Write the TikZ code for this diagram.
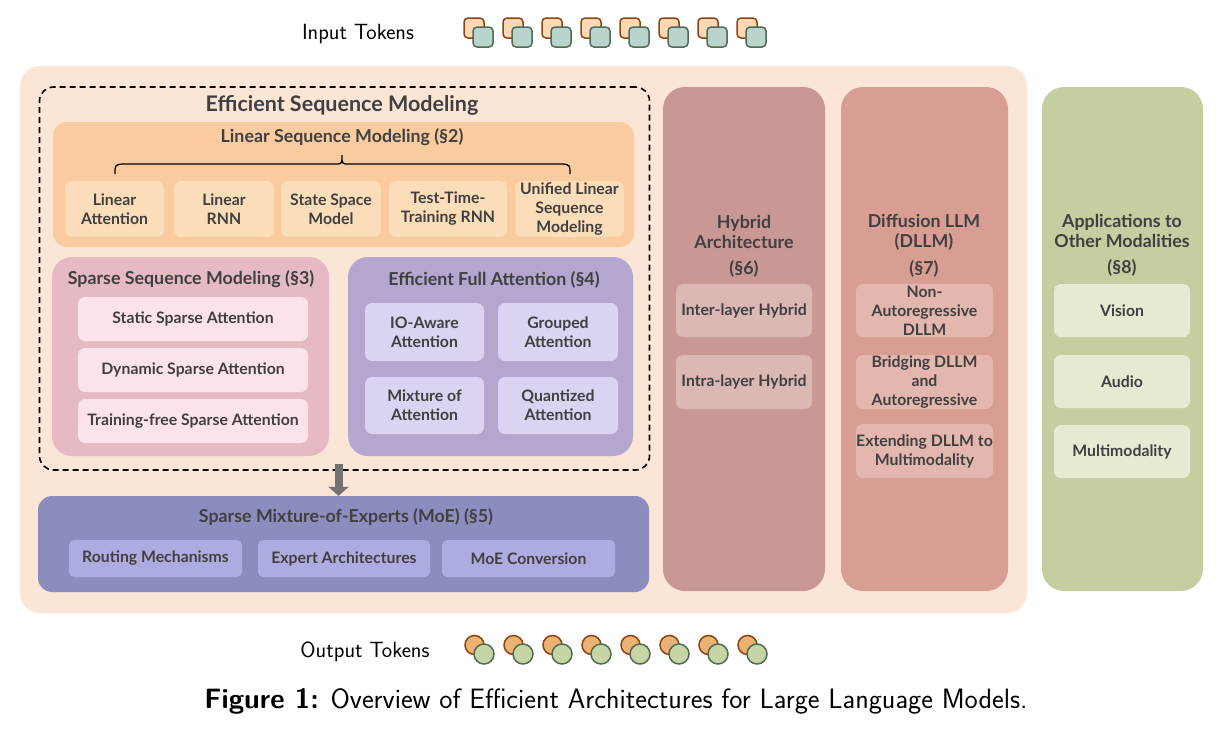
\documentclass[tikz,border=0pt]{standalone}
\usepackage{fontspec}
\newfontfamily\dfont{Lato}
\usetikzlibrary{arrows.meta}
\definecolor{txt}{HTML}{404040}
\definecolor{peach}{HTML}{FBE5D6}
\definecolor{linbox}{HTML}{F9CB9E}
\definecolor{linitem}{HTML}{FCDDBA}
\definecolor{spbox}{HTML}{E5BAC3}
\definecolor{spitem}{HTML}{FCE3EA}
\definecolor{efbox}{HTML}{B5A6CF}
\definecolor{efitem}{HTML}{DCD2F2}
\definecolor{moebox}{HTML}{8B8DBF}
\definecolor{moeitem}{HTML}{ADACE0}
\definecolor{hybox}{HTML}{C99894}
\definecolor{hyitem}{HTML}{DBB8B3}
\definecolor{dfbox}{HTML}{D99E93}
\definecolor{dfitem}{HTML}{E3B7AD}
\definecolor{grbox}{HTML}{C3CFA0}
\definecolor{gritem}{HTML}{E5EAD3}
\definecolor{tokor}{HTML}{FDD8B4}
\definecolor{tokorline}{HTML}{8B4513}
\definecolor{tokgr}{HTML}{B9D3CD}
\definecolor{tokgrline}{HTML}{506A55}
\definecolor{ocirc}{HTML}{EBB274}
\definecolor{gcirc}{HTML}{C5D6A4}
\definecolor{arrgray}{HTML}{767171}
\begin{document}
\begin{tikzpicture}[x=1pt,y=-1pt,
  every node/.style={inner sep=1pt, align=center, text=txt},
  panel/.style={draw=none, rounded corners=#1, minimum width=0pt},
  item/.style={draw=none, rounded corners=7pt, font=\dfont\bfseries\fontsize{15.8}{19}\selectfont},
  ttl/.style={font=\dfont\bfseries\fontsize{17.8}{20}\selectfont},
  sq/.style={minimum size=20pt, rounded corners=4pt, line width=1.5pt, inner sep=0pt},
  circ/.style={circle, line width=1.5pt, inner sep=0pt},
  bigarrow/.style={draw=arrgray, line width=8pt, -{Triangle[width=20pt,length=9pt]}}
]
\useasboundingbox (0,0) rectangle (1219,732);
% outer
\node[panel=20pt, fill=peach, minimum width=1007pt, minimum height=547pt] (outer) at (523.5,339.5) {};
% dashed
\node[draw=black, dashed, dash pattern=on 6pt off 4pt, line width=1.6pt, rounded corners=14pt, minimum width=610pt, minimum height=383pt] (esm) at (344.5,278.5) {};
\node[font=\dfont\bfseries\fontsize{21.5}{24}\selectfont] (esmt) at (342,105) {Efficient Sequence Modeling};
% linear
\node[panel=14pt, fill=linbox, minimum width=581pt, minimum height=125pt] (lin) at (343.5,184.5) {};
\node[ttl] (lint) at (342,137) {Linear Sequence Modeling (§2)};
\draw[line width=1.3pt, black] (115,174) .. controls (115,165) .. (122,164) -- (335,164) .. controls (342,164) .. (342,155)
  (342,155) .. controls (342,164) .. (349,164) -- (563,164) .. controls (570,165) .. (570,174);
\node[item, fill=linitem, minimum width=99pt, minimum height=56pt] (la) at (114.5,209) {Linear\\Attention};
\node[item, fill=linitem, minimum width=100pt, minimum height=56pt] (lr) at (224,209) {Linear\\RNN};
\node[item, fill=linitem, minimum width=100pt, minimum height=56pt] (ssm) at (331,209) {State Space\\Model};
\node[item, fill=linitem, minimum width=118pt, minimum height=56pt] (ttt) at (448,209) {Test-Time-\\Training RNN};
\node[item, fill=linitem, minimum width=109pt, minimum height=56pt, inner sep=0pt] (ul) at (569.5,209) {Unified Linear\\Sequence\\Modeling};
% sparse
\node[panel=20pt, fill=spbox, minimum width=277pt, minimum height=199pt] (sp) at (190.5,356.5) {};
\node[ttl] (spt) at (191,279) {Sparse Sequence Modeling (§3)};
\node[item, fill=spitem, minimum width=230pt, minimum height=44pt] (ssa) at (193,319) {Static Sparse Attention};
\node[item, fill=spitem, minimum width=230pt, minimum height=44pt] (dsa) at (193,370) {Dynamic Sparse Attention};
\node[item, fill=spitem, minimum width=230pt, minimum height=44pt] (tfs) at (193,421) {Training-free Sparse Attention};
% efficient full attention
\node[panel=20pt, fill=efbox, minimum width=285pt, minimum height=199pt] (ef) at (490.5,356.5) {};
\node[ttl] (eft) at (494,280) {Efficient Full Attention (§4)};
\node[item, fill=efitem, minimum width=119pt, minimum height=58pt] (io) at (424.5,332) {IO-Aware\\Attention};
\node[item, fill=efitem, minimum width=120pt, minimum height=58pt] (ga) at (558,332) {Grouped\\Attention};
\node[item, fill=efitem, minimum width=119pt, minimum height=57pt] (ma) at (424.5,405.5) {Mixture of\\Attention};
\node[item, fill=efitem, minimum width=120pt, minimum height=57pt] (qa) at (558,405.5) {Quantized\\Attention};
% MoE
\node[panel=14pt, fill=moebox, minimum width=611pt, minimum height=96pt] (moe) at (343.5,544) {};
\node[ttl] (moet) at (346,517) {Sparse Mixture-of-Experts (MoE) (§5)};
\node[item, fill=moeitem, rounded corners=5pt, minimum width=173pt, minimum height=37pt] (rm) at (155.5,558.5) {Routing Mechanisms};
\node[item, fill=moeitem, rounded corners=5pt, minimum width=172pt, minimum height=37pt] (ea) at (344,558.5) {Expert Architectures};
\node[item, fill=moeitem, rounded corners=5pt, minimum width=173pt, minimum height=37pt] (mc) at (528.5,558.5) {MoE Conversion};
\draw[bigarrow] ([xshift=-6pt,yshift=7pt]esm.south) -- ([xshift=-5pt]moe.north);
% hybrid
\node[panel=22pt, fill=hybox, minimum width=162pt, minimum height=504pt] (hy) at (744,339) {};
\node[ttl] (hyt) at (744,232) {Hybrid\\Architecture};
\node[ttl] (hys) at (744,269) {(§6)};
\node[item, fill=hyitem, minimum width=136pt, minimum height=53pt] (inter) at (744,310.5) {Inter-layer Hybrid};
\node[item, fill=hyitem, minimum width=136pt, minimum height=54pt] (intra) at (744,382) {Intra-layer Hybrid};
% diffusion
\node[panel=22pt, fill=dfbox, minimum width=167pt, minimum height=504pt] (df) at (924.5,339) {};
\node[ttl] (dft) at (924,232) {Diffusion LLM\\(DLLM)};
\node[ttl] (dfs) at (924,269) {(§7)};
\node[item, fill=dfitem, minimum width=137pt, minimum height=53pt, inner sep=0pt] (nar) at (924.5,310.5) {Non-\\Autoregressive\\DLLM};
\node[item, fill=dfitem, minimum width=137pt, minimum height=54pt, inner sep=0pt] (bri) at (924.5,382) {Bridging DLLM\\and\\Autoregressive};
\node[item, fill=dfitem, minimum width=137pt, minimum height=54pt, inner sep=0pt] (ext) at (924.5,451) {Extending DLLM to\\Multimodality};
% applications
\node[panel=22pt, fill=grbox, minimum width=161pt, minimum height=504pt] (app) at (1122.5,339) {};
\node[ttl] (appt) at (1122,231) {Applications to\\Other Modalities};
\node[ttl] (apps) at (1122,268) {(§8)};
\node[item, fill=gritem, minimum width=136pt, minimum height=53pt] (vis) at (1122,310.5) {Vision};
\node[item, fill=gritem, minimum width=136pt, minimum height=53pt] (aud) at (1122,381.5) {Audio};
\node[item, fill=gritem, minimum width=136pt, minimum height=53pt] (mm) at (1122,451.5) {Multimodality};
% tokens
\node[font=\sffamily\fontsize{22}{24}\selectfont, text=black] (intok) at (358,34) {Input Tokens};
\node[font=\sffamily\fontsize{22}{24}\selectfont, text=black] (outtok) at (365,652) {Output Tokens};
\foreach \i in {0,...,7} {
  \node[sq, fill=tokor, draw=tokorline] (ia\i) at (474+39*\i,28) {};
  \node[sq, fill=tokgr, draw=tokgrline] (ib\i) at (483+39*\i,37) {};
  \node[circ, minimum size=19pt, fill=ocirc, draw=tokorline] (oa\i) at (474.5+39*\i,645) {};
  \node[circ, minimum size=20pt, fill=gcirc, draw=tokgrline] (ob\i) at (484+39*\i,654) {};
}
% caption
\node[font=\sffamily\fontsize{28}{30}\selectfont, text=black] (cap) at (616,701) {\textbf{Figure 1:} Overview of Efficient Architectures for Large Language Models.};
\end{tikzpicture}
\end{document}
